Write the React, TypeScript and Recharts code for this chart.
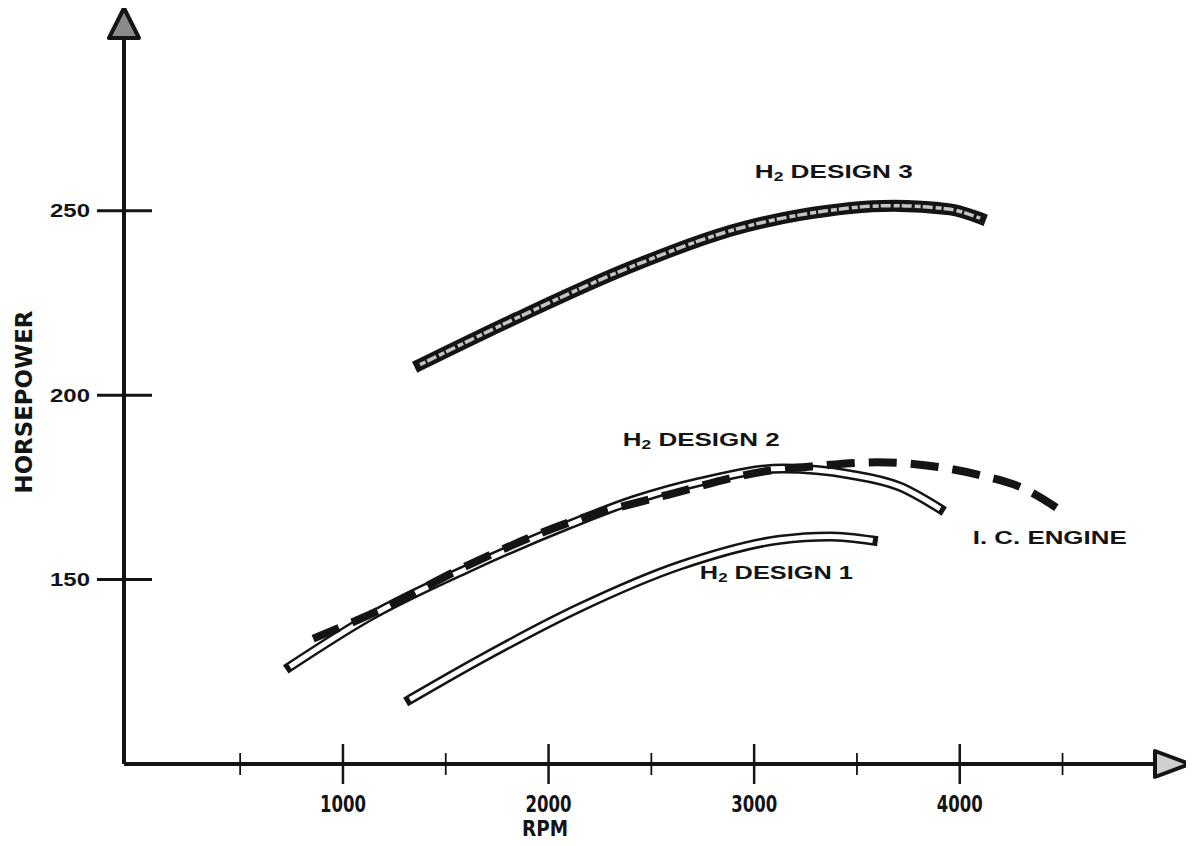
import React from "react";
import { LineChart, Line, XAxis, YAxis, ReferenceDot, Customized } from "recharts";

// values
const design1Rpm = [1326, 1666, 2152, 2639, 3125, 3368, 3577];
const design1Hp = [117.5, 128.3, 142.4, 153.8, 160.8, 161.7, 160.6];

const design2Rpm = [742, 1131, 1617, 2104, 2411, 2736, 3140, 3466, 3709, 3904];
const design2Hp = [126.4, 140.0, 153.3, 165.0, 171.5, 176.5, 180.1, 178.5, 175.2, 169.2];

const design3Rpm = [1375, 1847, 2401, 2956, 3224, 3676, 3953, 4099];
const design3Hp = [208.3, 221.0, 234.8, 245.7, 248.9, 251.4, 250.4, 248.0];

const icRpm = [855, 1170, 1620, 2100, 2580, 3070, 3300, 3600, 3900, 4130, 4290, 4500];
const icHp = [134.0, 141.5, 154.2, 165.5, 173.0, 179.5, 180.8, 181.8, 180.5, 177.9, 175.2, 168.4];

const xTicks = [500, 1000, 1500, 2000, 2500, 3000, 3500, 4000, 4500];
const yTicks = [150, 200, 250];

const X_DOMAIN: [number, number] = [-65, 5120];
const Y_DOMAIN: [number, number] = [100, 305];

const toPoints = (rpm: number[], hp: number[]) => rpm.map((r, i) => ({ rpm: r, hp: hp[i] }));

const design1 = toPoints(design1Rpm, design1Hp);
const design2 = toPoints(design2Rpm, design2Hp);
const design3 = toPoints(design3Rpm, design3Hp);
const icEngine = toPoints(icRpm, icHp);

const INK = "#141414";
const LABEL_FONT = "'Liberation Sans', Arial, sans-serif";
const NARROW_FONT = "'Liberation Sans Narrow', 'Arial Narrow', 'DejaVu Sans Condensed', sans-serif";

const curveLabels = [
  { name: "3", rpm: 3003, hp: 260.6, width: 158 },
  { name: "2", rpm: 2361, hp: 187.9, width: 157 },
  { name: "1", rpm: 2736, hp: 151.9, width: 153 },
];

const XTick = (props: any) => {
  const { x, y, payload } = props;
  const major = payload.value % 1000 === 0;
  const h = major ? 20 : 11;
  return (
    <g>
      <line x1={x} x2={x} y1={y - h} y2={y + h} stroke={INK} strokeWidth={major ? 2.5 : 1.8} />
      {major && (
        <text
          x={x}
          y={y + 40}
          textAnchor="middle"
          dominantBaseline="central"
          fontFamily={NARROW_FONT}
          fontWeight="bold"
          fontSize={23}
          fill={INK}
          textLength={46}
          lengthAdjust="spacingAndGlyphs"
        >
          {payload.value}
        </text>
      )}
    </g>
  );
};

const YTick = (props: any) => {
  const { x, y, payload } = props;
  return (
    <g>
      <line x1={x - 27} x2={x + 28} y1={y} y2={y} stroke={INK} strokeWidth={3} />
      <text
        x={x - 34}
        y={y}
        textAnchor="end"
        dominantBaseline="central"
        fontFamily={LABEL_FONT}
        fontWeight="bold"
        fontSize={19}
        fill={INK}
        textLength={40}
        lengthAdjust="spacingAndGlyphs"
      >
        {payload.value}
      </text>
    </g>
  );
};

const RightArrow = (props: any) => {
  const { cx, cy } = props;
  return (
    <polygon
      points={`${cx},${cy} ${cx - 35},${cy - 13} ${cx - 35},${cy + 13}`}
      fill="#cfcfcf"
      stroke={INK}
      strokeWidth={4}
      strokeLinejoin="round"
    />
  );
};

const UpArrow = (props: any) => {
  const { cx, cy } = props;
  return (
    <polygon
      points={`${cx},${cy} ${cx - 15},${cy + 30} ${cx + 15},${cy + 30}`}
      fill="#8a8a8a"
      stroke={INK}
      strokeWidth={4}
      strokeLinejoin="round"
    />
  );
};

const designLabel = (name: string, width: number) => (props: any) => {
  const { cx, cy } = props;
  return (
    <text
      x={cx}
      y={cy}
      dominantBaseline="central"
      fontFamily={LABEL_FONT}
      fontWeight="bold"
      fontSize={18}
      fill={INK}
      textLength={width}
      lengthAdjust="spacingAndGlyphs"
    >
      H<tspan fontSize={12} dy={5}>2</tspan>
      <tspan dy={-5}>{`  DESIGN  ${name}`}</tspan>
    </text>
  );
};

const IcLabel = (props: any) => (
  <text
    x={props.cx}
    y={props.cy}
    dominantBaseline="central"
    fontFamily={LABEL_FONT}
    fontWeight="bold"
    fontSize={18}
    fill={INK}
    textLength={154}
    lengthAdjust="spacingAndGlyphs"
  >
    I. C. ENGINE
  </text>
);

const AxisTitles = () => (
  <g>
    <text
      x={545}
      y={829}
      textAnchor="middle"
      dominantBaseline="central"
      fontFamily={NARROW_FONT}
      fontWeight="bold"
      fontSize={21}
      fill={INK}
      textLength={46}
      lengthAdjust="spacingAndGlyphs"
    >
      RPM
    </text>
    <text
      x={24}
      y={402}
      transform="rotate(-90 24 402)"
      textAnchor="middle"
      dominantBaseline="central"
      fontFamily={NARROW_FONT}
      fontWeight="bold"
      fontSize={23}
      fill={INK}
      textLength={183}
      lengthAdjust="spacingAndGlyphs"
    >
      HORSEPOWER
    </text>
  </g>
);

export default function App() {
  return (
    <div style={{ margin: -8, background: "#fff", width: 1194, height: 846 }}>
      <LineChart width={1194} height={846} margin={{ top: 8, right: 4, bottom: 0, left: 0 }}>
        <XAxis
          type="number"
          dataKey="rpm"
          domain={X_DOMAIN}
          allowDataOverflow
          ticks={xTicks}
          interval={0}
          tick={<XTick />}
          tickLine={false}
          tickSize={0}
          tickMargin={0}
          height={82}
          axisLine={{ stroke: INK, strokeWidth: 4 }}
        />
        <YAxis
          type="number"
          dataKey="hp"
          domain={Y_DOMAIN}
          allowDataOverflow
          ticks={yTicks}
          interval={0}
          tick={<YTick />}
          tickLine={false}
          tickSize={0}
          tickMargin={0}
          width={124}
          axisLine={{ stroke: INK, strokeWidth: 4 }}
        />

        {/* H2 design 1: hollow band */}
        <Line data={design1} dataKey="hp" type="monotone" stroke={INK} strokeWidth={10} strokeLinecap="square" dot={false} activeDot={false} isAnimationActive={false} />
        <Line data={design1} dataKey="hp" type="monotone" stroke="#fff" strokeWidth={5} dot={false} activeDot={false} isAnimationActive={false} />

        {/* H2 design 2: hollow band */}
        <Line data={design2} dataKey="hp" type="monotone" stroke={INK} strokeWidth={10} strokeLinecap="square" dot={false} activeDot={false} isAnimationActive={false} />
        <Line data={design2} dataKey="hp" type="monotone" stroke="#fff" strokeWidth={5} dot={false} activeDot={false} isAnimationActive={false} />

        {/* I.C. engine: heavy dashes */}
        <Line data={icEngine} dataKey="hp" type="monotone" stroke={INK} strokeWidth={8} strokeDasharray="28 14" dot={false} activeDot={false} isAnimationActive={false} />

        {/* H2 design 3: heavy shaded band */}
        <Line data={design3} dataKey="hp" type="monotone" stroke={INK} strokeWidth={12} strokeLinecap="square" dot={false} activeDot={false} isAnimationActive={false} />
        <Line data={design3} dataKey="hp" type="monotone" stroke="#c4c4c4" strokeWidth={3.5} strokeDasharray="6 2 10 3" dot={false} activeDot={false} isAnimationActive={false} />

        {curveLabels.map((l) => (
          <ReferenceDot key={l.name} x={l.rpm} y={l.hp} r={0} ifOverflow="visible" shape={designLabel(l.name, l.width)} />
        ))}
        <ReferenceDot x={4063} y={161.4} r={0} ifOverflow="visible" shape={IcLabel} />

        <ReferenceDot x={X_DOMAIN[1]} y={Y_DOMAIN[0]} r={0} ifOverflow="visible" shape={RightArrow} />
        <ReferenceDot x={X_DOMAIN[0]} y={Y_DOMAIN[1]} r={0} ifOverflow="visible" shape={UpArrow} />

        <Customized component={AxisTitles} />
      </LineChart>
    </div>
  );
}
